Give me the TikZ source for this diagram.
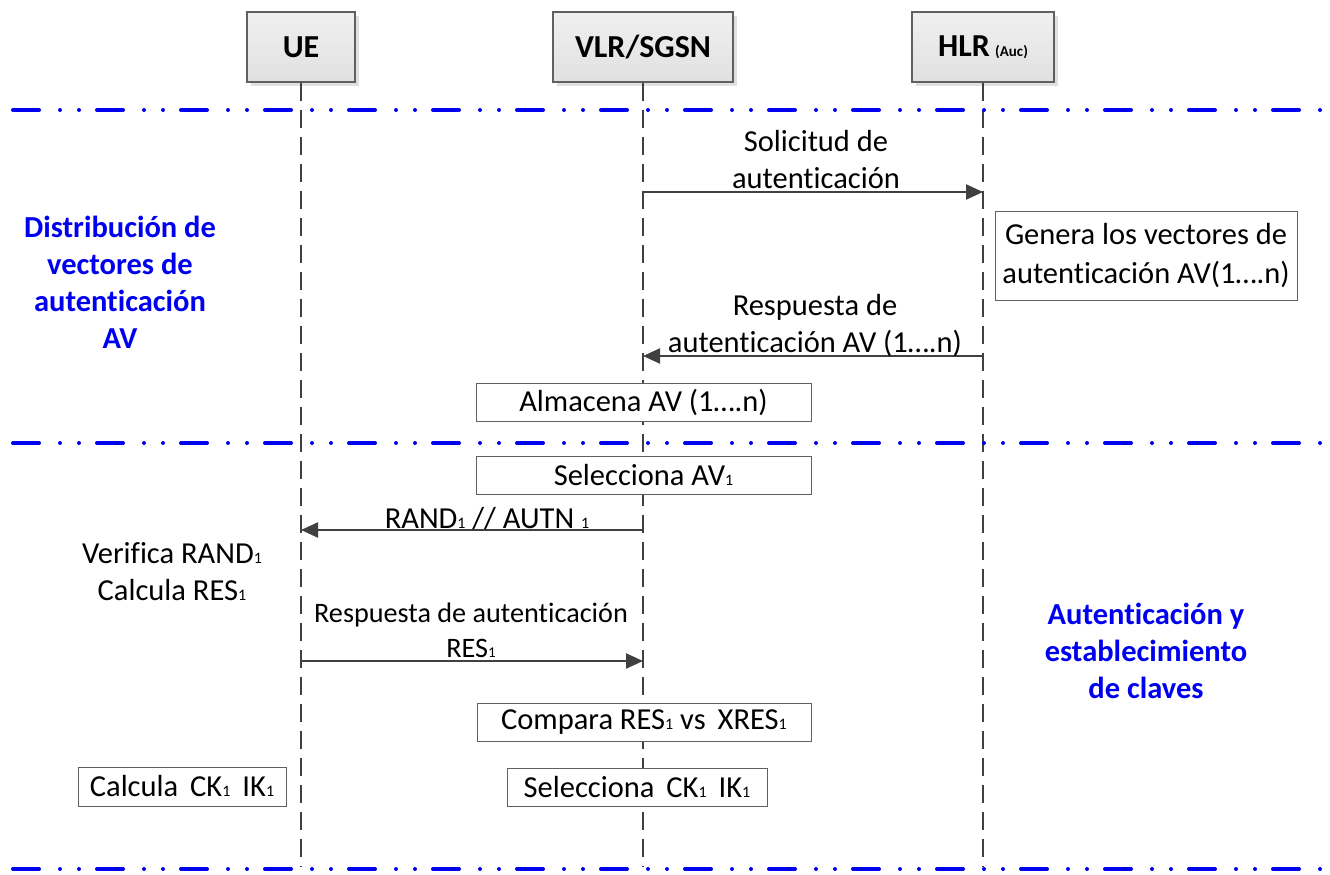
\documentclass[tikz,border=0pt]{standalone}
\usepackage{fontspec}
\setmainfont{Carlito}[Ligatures=NoCommon]
\usetikzlibrary{arrows.meta,shadows}

\definecolor{lifegray}{HTML}{404040}
\definecolor{edgegray}{HTML}{606060}
\definecolor{phaseblue}{HTML}{0000F0}

% small index digit set on the baseline
\newcommand\ix[1]{{\fontsize{16}{16}\selectfont #1}}

\tikzset{
  x=1pt, y=-1pt,
  txt/.style={font=\fontsize{30.5}{36.5}\selectfont, inner sep=0pt, align=center},
  phasetxt/.style={font=\bfseries\fontsize{30.5}{37}\selectfont, text=phaseblue, inner sep=0pt, align=center},
  head/.style={draw=edgegray, line width=1.2pt, top color=white!94!black, bottom color=white!88!black,
    minimum height=70pt, inner sep=0pt, font=\bfseries\fontsize{32}{34}\selectfont,
    drop shadow={shadow xshift=4pt, shadow yshift=-4pt, fill=black!12, opacity=1}},
  actbox/.style={draw=edgegray, line width=1pt, fill=white, inner sep=0pt, align=center,
    minimum height=38pt, font=\fontsize{30.5}{38.5}\selectfont},
  lifeline/.style={draw=lifegray, line width=2.2pt, dash pattern=on 18pt off 9pt},
  phase/.style={draw=phaseblue, line width=4pt, line cap=round,
    dash pattern=on 26pt off 21pt on 0pt off 19pt on 0pt off 18pt},
  msg/.style={draw=lifegray, line width=2.2pt, -{Triangle[length=17pt,width=15pt]}},
}

\begin{document}
\begin{tikzpicture}
\useasboundingbox (0,0) rectangle (1330,875);

% participants
\node[head, minimum width=108pt] (ue)  at (301,47) {UE};
\node[head, minimum width=180pt] (vlr) at (643,47) {VLR/SGSN};
\node[head, minimum width=142pt] (hlr) at (983,47) {HLR\,{\fontsize{15}{15}\selectfont(Auc)}};

% lifeline ends
\coordinate (ueEnd)  at (301,866);
\coordinate (vlrEnd) at (643,866);
\coordinate (hlrEnd) at (983,866);
\draw[lifeline] (ue.south)  -- (ueEnd);
\draw[lifeline] (vlr.south) -- (vlrEnd);
\draw[lifeline] (hlr.south) -- (hlrEnd);

% phase separators
\coordinate (p1a) at (13,110);  \coordinate (p1b) at (1320,110);
\coordinate (p2a) at (13,443);  \coordinate (p2b) at (1320,443);
\coordinate (p3a) at (13,869);  \coordinate (p3b) at (1320,869);
\draw[phase] (p1a) -- (p1b);
\draw[phase] (p2a) -- (p2b);
\draw[phase] (p3a) -- (p3b);

% phase titles
\node[phasetxt, anchor=base] (ph1) at (120,348) {Distribución de\\vectores de\\autenticación\\AV};
\node[phasetxt, anchor=base] (ph2) at (1146,698) {Autenticación y\\establecimiento\\de claves};

% authentication data request
\coordinate (vlrM1) at (643,192);
\coordinate (hlrM1) at (983,192);
\draw[msg] (vlrM1) -- (hlrM1);
\node[txt, anchor=base] (l1) at (816,188) {Solicitud de\\autenticación};

\node[actbox, minimum width=302pt, minimum height=89pt] (gen) at (1146,255.5)
  {Genera los vectores de\\autenticación AV(1….n)};

% authentication data response
\coordinate (hlrM2) at (983,356);
\coordinate (vlrM2) at (643,356);
\draw[msg] (hlrM2) -- (vlrM2);
\node[txt, anchor=base] (l2) at (815,352) {Respuesta de\\autenticación AV (1….n)};

\node[actbox, minimum width=335pt] (store) at (643.5,402) {Almacena AV (1….n)};
\node[actbox, minimum width=335pt] (selav) at (643.5,475) {Selecciona AV\ix{1}};

% challenge
\coordinate (vlrM3) at (643,530);
\coordinate (ueM3)  at (301,530);
\draw[msg] (vlrM3) -- (ueM3);
\node[txt, anchor=base] (l3) at (487,528) {RAND\ix{1} // AUTN \ix{1}};

\node[txt, anchor=base] (ver) at (172,600) {Verifica RAND\ix{1}\\Calcula RES\ix{1}};

% user response
\coordinate (ueM4)  at (301,661);
\coordinate (vlrM4) at (643,661);
\draw[msg] (ueM4) -- (vlrM4);
\node[txt, font=\fontsize{28.2}{35}\selectfont, anchor=base] (l4) at (471,657)
  {Respuesta de autenticación\\RES{\fontsize{15}{15}\selectfont 1}};

\node[actbox, minimum width=334pt] (cmp) at (644,722) {Compara RES\ix{1} vs\, XRES\ix{1}};
\node[actbox, minimum width=260pt] (selck) at (637,787) {Selecciona\, CK\ix{1}\, IK\ix{1}};
\node[actbox, minimum width=208pt, minimum height=39pt] (calc) at (182,786.5) {Calcula\, CK\ix{1}\, IK\ix{1}};

\end{tikzpicture}
\end{document}
